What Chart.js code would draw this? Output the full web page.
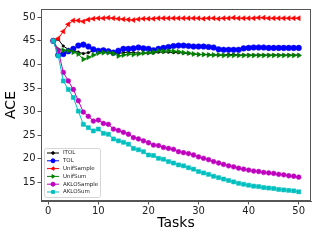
<!DOCTYPE html>
<html>
<head>
<meta charset="utf-8">
<script src="https://cdn.jsdelivr.net/npm/chart.js@4"></script>
<style>
  body { margin: 0; background: #fff; }
  canvas { display: block; }
</style>
</head>
<body>
<canvas id="aceChart" width="320" height="240"></canvas>
<script>
const tasks = [1,2,3,4,5,6,7,8,9,10,11,12,13,14,15,16,17,18,19,20,21,22,23,24,25,
  26,27,28,29,30,31,32,33,34,35,36,37,38,39,40,41,42,43,44,45,46,47,48,49,50];
const xTicks = [0, 10, 20, 30, 40, 50];
const yTicks = [15, 20, 25, 30, 35, 40, 45, 50];
const seriesNames = ["ITOL", "TOL", "UnifSample", "UnifSum", "AKLOSample", "AKLOSum"];

const itol = [45.0,45.3,43.9,43.2,42.9,42.6,42.3,42.5,42.9,42.9,42.8,42.6,42.4,42.3,42.5,42.6,42.5,42.4,42.4,42.4,
  42.4,42.6,42.6,42.6,42.5,42.5,42.4,42.3,42.2,42.1,42.1,42.1,42.0,42.0,42.0,42.1,42.1,42.0,42.0,42.0,
  42.0,42.0,42.0,42.0,42.0,42.0,42.0,42.0,42.0,42.0];
const tol = [45.0,42.0,42.2,42.8,43.3,44.0,44.2,43.8,43.2,42.9,43.0,42.8,42.5,42.9,43.3,43.3,43.4,43.6,43.4,43.3,
  43.0,43.3,43.5,43.7,43.9,44.0,44.0,43.9,43.8,43.8,43.8,43.7,43.6,43.2,43.1,43.1,43.1,43.1,43.4,43.5,
  43.6,43.6,43.6,43.5,43.5,43.5,43.5,43.5,43.5,43.5];
const unifSample = [45.0,45.5,47.0,48.5,49.3,49.3,49.1,49.5,49.7,49.8,49.8,49.9,49.8,49.7,49.6,49.5,49.4,49.6,49.7,49.7,
  49.7,49.8,49.8,49.8,49.8,49.8,49.8,49.8,49.8,49.8,49.7,49.8,49.8,49.7,49.8,49.8,49.9,49.8,49.8,49.8,
  49.8,49.9,49.9,49.8,49.8,49.8,49.8,49.8,49.8,49.8];
const unifSum = [45.0,43.2,43.0,42.9,42.6,42.2,41.1,41.5,42.0,42.4,42.5,42.5,42.3,41.8,42.0,42.2,42.1,42.2,42.4,42.5,
  42.6,42.9,42.8,42.9,42.8,42.7,42.5,42.4,42.2,42.1,42.1,42.0,42.0,42.0,41.9,41.9,41.9,41.9,41.9,41.9,
  41.9,41.9,41.9,41.9,41.9,41.9,41.9,41.9,41.9,41.9];
const akloSample = [45.0,42.9,38.3,36.5,34.7,32.3,29.9,29.0,28.0,28.2,27.5,27.3,26.3,26.0,25.6,25.2,24.5,24.2,23.8,23.4,
  22.9,22.8,22.4,22.2,22.0,21.5,21.3,21.1,20.8,20.4,20.1,19.8,19.4,19.1,18.8,18.5,18.3,18.0,17.8,17.6,
  17.4,17.3,17.1,17.0,16.9,16.7,16.6,16.4,16.3,16.1];
const akloSum = [45.0,41.8,36.5,34.7,33.0,30.1,27.3,26.6,25.9,26.3,25.4,25.2,24.2,23.8,23.5,23.1,22.2,21.9,21.5,20.8,
  20.7,20.1,19.9,19.4,19.1,18.7,18.5,18.1,17.8,17.3,17.0,16.7,16.3,16.0,15.7,15.4,15.1,14.8,14.6,14.4,
  14.2,14.1,13.9,13.8,13.7,13.5,13.4,13.3,13.2,13.0];

const allSeries = [itol, tol, unifSample, unifSum, akloSample, akloSum];
const colors = ["#000000", "#0000ff", "#ff0000", "#008000", "#bf00bf", "#00bfbf"];
const markers = ["circle", "circle", "triangle", "triangle", "circle", "rect"];
const rotations = [0, 0, -90, 90, 0, 0];
const radii = [1.3, 2.8, 2.9, 2.9, 2.4, 2.9];

const FONT = "'DejaVu Sans', sans-serif";

const frame = {
  id: "frame",
  afterDatasetsDraw(chart) {
    const { ctx, chartArea: a } = chart;
    ctx.save();
    ctx.strokeStyle = "#555";
    ctx.lineWidth = 1;
    ctx.strokeRect(a.left + 0.5, a.top + 0.5, a.right - a.left - 1, a.bottom - a.top - 1);
    ctx.restore();
  }
};

const boxLegend = {
  id: "boxLegend",
  afterDraw(chart) {
    const { ctx, chartArea: a } = chart;
    const x0 = a.left + 3, y0 = a.bottom - 53, w = 56, h = 49;
    ctx.save();
    ctx.fillStyle = "rgba(255,255,255,0.85)";
    ctx.strokeStyle = "#cccccc";
    ctx.lineWidth = 0.8;
    ctx.beginPath();
    ctx.roundRect(x0 + 0.5, y0 + 0.5, w, h, 2);
    ctx.fill();
    ctx.stroke();
    ctx.font = "5.5px " + FONT;
    ctx.textBaseline = "middle";
    chart.data.datasets.forEach((ds, i) => {
      const y = y0 + 5 + i * 7.8;
      ctx.strokeStyle = ds.borderColor;
      ctx.fillStyle = ds.borderColor;
      ctx.lineWidth = 1;
      ctx.beginPath();
      ctx.moveTo(x0 + 3, y);
      ctx.lineTo(x0 + 15, y);
      ctx.stroke();
      Chart.helpers.drawPoint(ctx, {
        pointStyle: ds.pointStyle,
        rotation: ds.pointRotation,
        radius: Math.min(ds.pointRadius, 2),
        borderWidth: 0.5
      }, x0 + 9, y);
      ctx.fillStyle = "#222";
      ctx.fillText(ds.label, x0 + 19, y);
    });
    ctx.restore();
  }
};

new Chart(document.getElementById("aceChart"), {
  type: "line",
  data: {
    datasets: seriesNames.map((name, i) => ({
      label: name,
      data: tasks.map((t, j) => ({ x: t, y: allSeries[i][j] })),
      borderColor: colors[i],
      backgroundColor: colors[i],
      borderWidth: 1,
      pointStyle: markers[i],
      pointRotation: rotations[i],
      pointRadius: radii[i],
      pointBorderWidth: 0.5,
      order: seriesNames.length - 1 - i,
      tension: 0
    }))
  },
  options: {
    responsive: false,
    animation: false,
    layout: { padding: { top: 9, right: 9, left: 0, bottom: 0 } },
    plugins: { legend: { display: false }, tooltip: { enabled: false } },
    scales: {
      x: {
        type: "linear",
        min: -1.45,
        max: 52.45,
        afterBuildTicks: s => { s.ticks = xTicks.map(v => ({ value: v })); },
        afterFit: s => { s.height = 39; },
        grid: { drawOnChartArea: false, drawTicks: true, tickLength: 3.5, color: "#555" },
        border: { display: true, color: "#555" },
        ticks: { color: "#222", font: { family: FONT, size: 10 }, padding: 1, maxRotation: 0 },
        title: { display: true, text: "Tasks", color: "#000", font: { family: FONT, size: 14 }, padding: { top: 0, bottom: 8 } }
      },
      y: {
        min: 11.05,
        max: 51.75,
        afterBuildTicks: s => { s.ticks = yTicks.map(v => ({ value: v })); },
        afterFit: s => { s.width = 41; },
        grid: { drawOnChartArea: false, drawTicks: true, tickLength: 3.5, color: "#555" },
        border: { display: true, color: "#555" },
        ticks: { color: "#222", font: { family: FONT, size: 10 }, padding: 2 },
        title: { display: true, text: "ACE", color: "#000", font: { family: FONT, size: 14 }, padding: { top: 3, bottom: 0 } }
      }
    }
  },
  plugins: [frame, boxLegend]
});
</script>
</body>
</html>
